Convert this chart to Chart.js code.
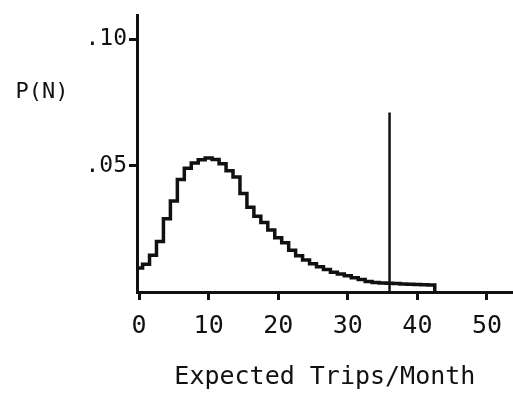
<!DOCTYPE html>
<html>
<head>
<meta charset="utf-8">
<script src="https://cdn.jsdelivr.net/npm/chart.js@4"></script>
<style>
  html, body { margin: 0; padding: 0; background: #fff; }
  canvas { display: block; }
</style>
</head>
<body>
<canvas id="tripsChart" width="513" height="396"></canvas>
<script>
// number of trips N (each bin is centred on N)
const trips = [0, 1, 2, 3, 4, 5, 6, 7, 8, 9,
  10, 11, 12, 13, 14, 15, 16, 17, 18, 19,
  20, 21, 22, 23, 24, 25, 26, 27, 28, 29,
  30, 31, 32, 33, 34, 35, 36, 37, 38, 39,
  40, 41, 42];
// P(N)
const probabilities = [0.0095, 0.011, 0.0145, 0.020, 0.029, 0.036, 0.0445, 0.049, 0.051, 0.0523,
  0.053, 0.0524, 0.0508, 0.048, 0.0455, 0.039, 0.0335, 0.030, 0.0275, 0.0245,
  0.0215, 0.0195, 0.0165, 0.0143, 0.0127, 0.0112, 0.010, 0.0089, 0.0078, 0.0071,
  0.0064, 0.0056, 0.0049, 0.0042, 0.0038, 0.0036, 0.0035, 0.0034, 0.0032, 0.0031,
  0.0030, 0.0029, 0.0028];
// the single vertical marker
const markerTrips = [36];
const markerHeight = [0.071];

const xTicks = [0, 10, 20, 30, 40, 50];
const yTicks = [0.05, 0.10];
const yTickLabels = ['.05', '.10'];

const FONT = "'DejaVu Sans Mono', monospace";
const INK = '#111';

// outline of the histogram: left and right edge of every bin, then down to 0
const stepPoints = [];
trips.forEach((n, i) => {
  stepPoints.push({ x: n - 0.5, y: probabilities[i] });
  stepPoints.push({ x: n + 0.5, y: probabilities[i] });
});
stepPoints.push({ x: trips[trips.length - 1] + 0.5, y: 0 });

const markerPoints = [
  { x: markerTrips[0], y: 0 },
  { x: markerTrips[0], y: markerHeight[0] },
];

const pnLabel = {
  id: 'pnLabel',
  afterDraw(chart) {
    const ctx = chart.ctx;
    const y = chart.scales.y.getPixelForValue(0.079);
    ctx.save();
    ctx.font = '22px ' + FONT;
    ctx.fillStyle = INK;
    ctx.textAlign = 'center';
    ctx.textBaseline = 'middle';
    ctx.fillText('P(N)', 42, y);
    ctx.restore();
  },
};

new Chart(document.getElementById('tripsChart'), {
  type: 'line',
  data: {
    datasets: [
      {
        data: stepPoints,
        borderColor: INK,
        borderWidth: 3.5,
        fill: false,
        tension: 0,
        pointRadius: 0,
      },
      {
        data: markerPoints,
        borderColor: INK,
        borderWidth: 2.5,
        fill: false,
        pointRadius: 0,
      },
    ],
  },
  options: {
    responsive: false,
    animation: false,
    devicePixelRatio: 1,
    layout: { padding: { top: 10, right: 0, bottom: 0, left: 0 } },
    plugins: {
      legend: { display: false },
      tooltip: { enabled: false },
    },
    scales: {
      x: {
        type: 'linear',
        min: -0.3,
        max: 53.7,
        afterFit: (s) => { s.height = 104; },
        afterBuildTicks: (s) => { s.ticks = xTicks.map((v) => ({ value: v })); },
        border: { display: true, color: INK, width: 3 },
        grid: { drawOnChartArea: false, drawTicks: true, tickLength: 8, color: INK, lineWidth: 3 },
        ticks: {
          color: INK,
          font: { family: FONT, size: 25 },
          padding: 11,
          maxRotation: 0,
          autoSkip: false,
        },
        title: {
          display: true,
          text: 'Expected Trips/Month',
          color: INK,
          font: { family: FONT, size: 25, lineHeight: 1.2 },
          padding: { top: 0, bottom: 4 },
        },
      },
      y: {
        type: 'linear',
        min: 0,
        max: 0.1093,
        afterFit: (s) => { s.width = 137; },
        afterBuildTicks: (s) => { s.ticks = yTicks.map((v) => ({ value: v })); },
        border: { display: true, color: INK, width: 3 },
        grid: { drawOnChartArea: false, drawTicks: true, tickLength: 8, color: INK, lineWidth: 3 },
        ticks: {
          color: INK,
          font: { family: FONT, size: 23 },
          padding: 2,
          callback: (value, index) => yTickLabels[index],
        },
      },
    },
  },
  plugins: [pnLabel],
});
</script>
</body>
</html>
